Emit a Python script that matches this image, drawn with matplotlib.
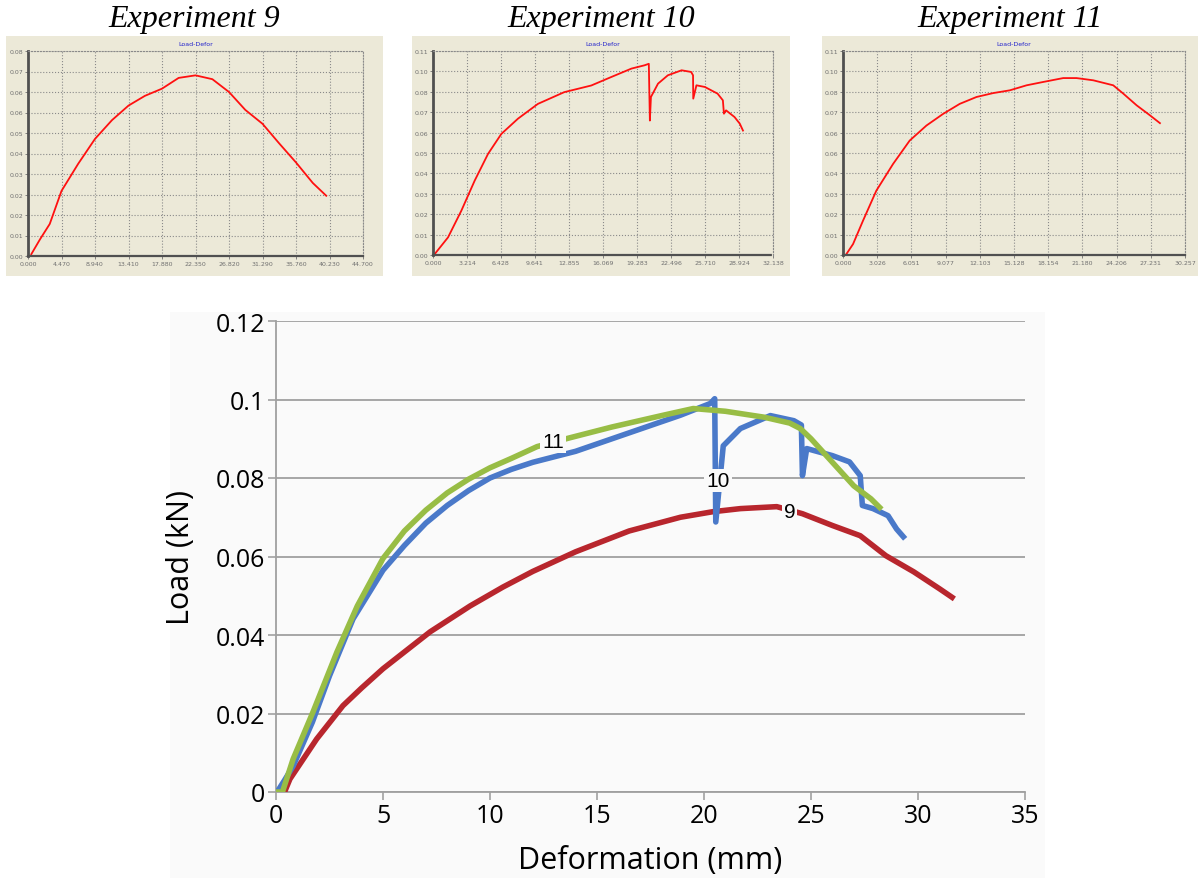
import matplotlib
matplotlib.use("Agg")
import matplotlib.pyplot as plt
from matplotlib.patches import Rectangle

# ---- main chart data (Deformation mm, Load kN) ----
x9 = [0.4, 0.65, 1.9, 3.13, 4.0, 5.0, 7.2, 9.07, 10.6, 12.0, 14.0, 16.5, 18.9,
      20.4, 21.7, 23.4, 24.6, 26.0, 27.3, 28.5, 29.8, 31.0, 31.7]
y9 = [0.0, 0.0033, 0.0135, 0.022, 0.0265, 0.0314, 0.0408, 0.0474, 0.0522, 0.0562,
      0.0612, 0.0665, 0.0700, 0.0714, 0.0722, 0.0727, 0.0709, 0.0679, 0.0653,
      0.0602, 0.0561, 0.0518, 0.0492]

x10 = [0.05, 0.4, 0.8, 1.7, 2.5, 3.6, 5.0, 6.0, 7.0, 8.0, 9.0, 10.0, 11.0, 12.0,
       14.0, 16.5, 18.9, 20.3, 20.5, 20.55, 20.9, 21.7, 23.1, 24.2, 24.55, 24.6,
       24.8, 26.0, 26.8, 27.3, 27.4, 27.9, 28.6, 29.0, 29.4]
y10 = [0.0, 0.003, 0.0066, 0.0178, 0.0296, 0.0441, 0.0565, 0.0628, 0.0685, 0.073,
       0.0768, 0.0800, 0.0822, 0.0840, 0.0868, 0.0915, 0.096, 0.099, 0.1002,
       0.0688, 0.0882, 0.0926, 0.0959, 0.0946, 0.0935, 0.0806, 0.0875, 0.0857,
       0.0841, 0.0806, 0.073, 0.0722, 0.0704, 0.067, 0.0645]

x11 = [0.0, 0.3, 0.8, 1.73, 2.85, 3.8, 5.0, 6.0, 7.0, 8.0, 9.0, 10.0, 11.0, 12.2,
       13.7, 15.7, 18.1, 19.5, 21.0, 22.8, 24.0, 24.5, 25.0, 26.0, 26.5, 27.0,
       27.8, 28.3]
y11 = [0.0, 0.0, 0.0084, 0.0204, 0.0357, 0.0474, 0.0595, 0.0665, 0.0718, 0.0762,
       0.0797, 0.0826, 0.0850, 0.088, 0.0902, 0.093, 0.096, 0.0977, 0.097, 0.0955,
       0.094, 0.0926, 0.090, 0.084, 0.081, 0.078, 0.0747, 0.072]

main_yticks = [0, 0.02, 0.04, 0.06, 0.08, 0.1, 0.12]
main_yticklabels = ["0", "0.02", "0.04", "0.06", "0.08", "0.1", "0.12"]
main_xticks = [0, 5, 10, 15, 20, 25, 30, 35]

# ---- small panel data (raw machine screenshots) ----
p9_x = [0.44, 1.6, 2.9, 4.47, 6.7, 8.94, 11.2, 13.41, 15.6, 17.88, 20.1, 22.35,
        24.6, 26.82, 29.0, 31.29, 33.5, 35.76, 38.0, 39.8]
p9_y = [0.0007, 0.0065, 0.0125, 0.0254, 0.036, 0.0457, 0.053, 0.0587, 0.0625,
        0.0653, 0.0695, 0.0705, 0.069, 0.064, 0.057, 0.0516, 0.044, 0.0365,
        0.0285, 0.0235]
p10_x = [0.16, 1.42, 2.68, 3.94, 5.2, 6.46, 8.03, 9.92, 12.4, 14.96, 16.86, 18.75,
         20.0, 20.4, 20.5, 20.6, 21.27, 22.2, 23.5, 24.4, 24.58, 24.6, 24.9, 25.7,
         26.9, 27.4, 27.5, 27.7, 28.5, 29.0, 29.3]
p10_y = [0.0005, 0.0095, 0.0239, 0.0401, 0.0545, 0.0653, 0.0735, 0.0815, 0.0878,
         0.0914, 0.096, 0.1005, 0.1023, 0.1031, 0.0725, 0.0852, 0.0924, 0.0969,
         0.0996, 0.0987, 0.0969, 0.0843, 0.0915, 0.0906, 0.087, 0.0834, 0.0762,
         0.078, 0.0744, 0.0708, 0.0671]
p11_x = [0.3, 0.89, 1.77, 2.95, 4.43, 5.9, 7.38, 8.86, 10.33, 11.81, 13.28, 14.76,
         16.24, 17.71, 19.48, 20.66, 22.14, 23.91, 24.8, 25.98, 27.16, 28.04]
p11_y = [0.0005, 0.0059, 0.0185, 0.0347, 0.0491, 0.0617, 0.0698, 0.0761, 0.0815,
         0.0852, 0.0873, 0.0888, 0.0915, 0.0933, 0.0954, 0.0954, 0.0942, 0.0915,
         0.087, 0.0807, 0.0753, 0.0711]

p9_xticks = ["0.000", "4.470", "8.940", "13.410", "17.880", "22.350", "26.820",
             "31.290", "35.760", "40.230", "44.700"]
p10_xticks = ["0.000", "3.214", "6.428", "9.641", "12.855", "16.069", "19.283",
              "22.496", "25.710", "28.924", "32.138"]
p11_xticks = ["0.000", "3.026", "6.051", "9.077", "12.103", "15.128", "18.154",
              "21.180", "24.206", "27.231", "30.257"]
p9_yticks = ["0.00", "0.01", "0.02", "0.02", "0.03", "0.04", "0.05", "0.06",
             "0.06", "0.07", "0.08"]
p10_yticks = ["0.00", "0.01", "0.02", "0.03", "0.04", "0.05", "0.06", "0.07",
              "0.08", "0.10", "0.11"]
p11_yticks = ["0.00", "0.01", "0.02", "0.03", "0.04", "0.06", "0.06", "0.07",
              "0.08", "0.10", "0.11"]

W, H = 1200, 879
fig = plt.figure(figsize=(12, 8.79), dpi=100)


def rect(l, t, r, b):
    # pixel box -> figure fraction
    return [l / W, 1 - b / H, (r - l) / W, (b - t) / H]


def backdrop(l, t, r, b, color):
    fig.patches.append(Rectangle((l / W, 1 - b / H), (r - l) / W, (b - t) / H,
                                 transform=fig.transFigure, facecolor=color,
                                 edgecolor="none", zorder=-10))


# light grey backdrop behind the main chart
backdrop(170, 313, 1045, 879, "#fafafa")

beige = "#ece9d8"
panels = [
    ("Experiment 9", (6, 37, 383, 277), (28, 52, 363, 257), p9_x, p9_y,
     44.7, 0.08, p9_xticks, p9_yticks),
    ("Experiment 10", (412, 37, 790, 277), (433, 52, 773, 256), p10_x, p10_y,
     32.138, 0.11, p10_xticks, p10_yticks),
    ("Experiment 11", (822, 37, 1198, 277), (843, 52, 1185, 256), p11_x, p11_y,
     30.257, 0.11, p11_xticks, p11_yticks),
]

for title, bg, pa, px, py, xmax, ymax, xt, yt in panels:
    backdrop(*bg, beige)
    fig.text((bg[0] + bg[2]) / 2 / W, 1 - 19 / H, title, ha="center", va="center",
             fontsize=23, family="Liberation Serif", style="italic")
    fig.text((pa[0] + pa[2]) / 2 / W, 1 - 45 / H, "Load-Defor", ha="center",
             va="center", fontsize=4.5, color="#2222cc")
    ax = fig.add_axes(rect(*pa))
    ax.set_facecolor("none")
    ax.plot(px, py, color="#ff1010", lw=1.3)
    ax.set_xlim(0, xmax)
    ax.set_ylim(0, ymax)
    ax.set_xticks([xmax * i / 10 for i in range(11)])
    ax.set_xticklabels(xt)
    ax.set_yticks([ymax * i / 10 for i in range(11)])
    ax.set_yticklabels(yt)
    ax.tick_params(labelsize=4.5, labelcolor="#707070", length=2, width=0.6,
                   color="#707070", pad=1.5)
    ax.grid(True, linestyle=":", color="#8a8a8a", lw=0.8)
    ax.spines["left"].set_color("#505050")
    ax.spines["left"].set_linewidth(2)
    ax.spines["bottom"].set_color("#505050")
    ax.spines["bottom"].set_linewidth(1.6)
    ax.spines["bottom"].set_linestyle((0, (2, 1)))
    for s in ("top", "right"):
        ax.spines[s].set_color("#8a8a8a")
        ax.spines[s].set_linestyle(":")
        ax.spines[s].set_linewidth(0.8)

# ---- main chart ----
font = "Open Sans"
ax = fig.add_axes(rect(276, 322, 1025, 793))
ax.set_facecolor("#fafafa")
ax.plot(x9, y9, color="#b8262d", lw=4, solid_capstyle="butt", zorder=3)
ax.plot(x10, y10, color="#4a79c9", lw=4, solid_capstyle="butt", zorder=3)
ax.plot(x11, y11, color="#98bd45", lw=4, solid_capstyle="butt", zorder=4)

box = dict(facecolor="#fafafa", edgecolor="none", pad=1.5)
ax.text(12.95, 0.0892, "11", fontsize=15, family="Liberation Sans",
        ha="center", va="center", bbox=box, zorder=5)
ax.text(20.65, 0.0793, "10", fontsize=15, family="Liberation Sans",
        ha="center", va="center", bbox=box, zorder=5)
ax.text(24.0, 0.0714, "9", fontsize=15, family="Liberation Sans",
        ha="center", va="center", bbox=box, zorder=5)

ax.set_xlim(0, 35)
ax.set_ylim(0, 0.12)
ax.set_yticks(main_yticks)
ax.set_yticklabels(main_yticklabels, family=font, fontsize=18)
ax.set_xticks(main_xticks)
ax.set_xticklabels([str(v) for v in main_xticks], family=font, fontsize=18)
ax.yaxis.grid(True, color="#a0a0a0", lw=1.3)
ax.set_axisbelow(True)
ax.tick_params(length=6, width=1.2, color="#a0a0a0", pad=2)
for s in ("top", "right"):
    ax.spines[s].set_visible(False)
for s in ("left", "bottom"):
    ax.spines[s].set_color("#a0a0a0")
    ax.spines[s].set_linewidth(1.3)
ax.set_xlabel("Deformation (mm)", family=font, fontsize=22, labelpad=12)
ax.set_ylabel("Load (kN)", family=font, fontsize=22, labelpad=14)

fig.savefig("out.png", dpi=100)
